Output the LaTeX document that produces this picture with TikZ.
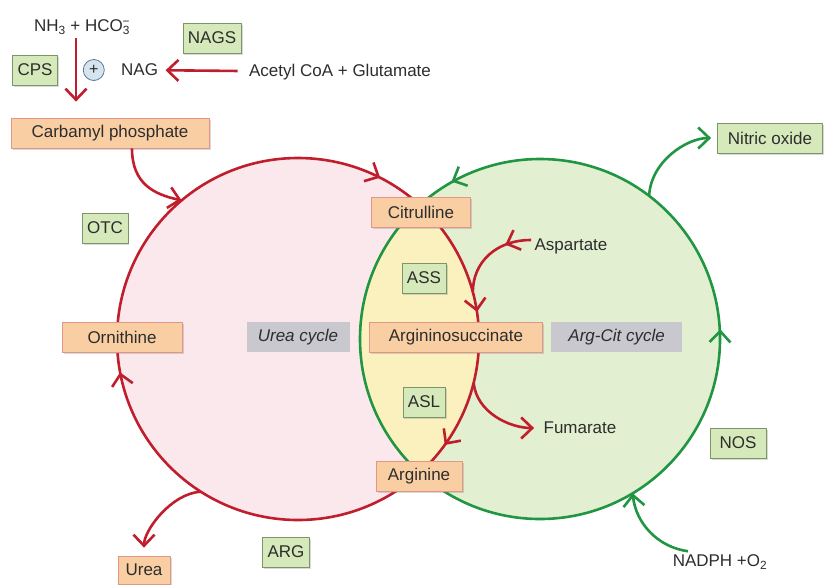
\documentclass[tikz,border=0pt]{standalone}
\usepackage{fontspec}
\setmainfont{Liberation Sans}
\usepackage{xcolor}
\usetikzlibrary{positioning,shapes,shadows,arrows.meta,decorations.markings}

\definecolor{ucred}{RGB}{192,30,44}
\definecolor{acgreen}{RGB}{32,150,66}
\definecolor{ucfill}{RGB}{251,232,236}
\definecolor{acfill}{RGB}{226,239,209}
\definecolor{lensfill}{RGB}{250,241,190}
\definecolor{enzfill}{RGB}{214,233,186}
\definecolor{enzdraw}{RGB}{125,150,105}
\definecolor{metfill}{RGB}{249,206,162}
\definecolor{metdraw}{RGB}{226,150,135}
\definecolor{tagfill}{RGB}{200,200,206}
\definecolor{plusfill}{RGB}{214,228,240}
\definecolor{plusdraw}{RGB}{90,120,150}
\definecolor{txt}{RGB}{45,45,45}

\begin{document}
\begin{tikzpicture}[>={Straight Barb[length=11pt,width=21pt,line width=2.6pt]},x=1pt,y=-1pt,
                    font=\fontsize{17}{20}\selectfont,text=txt]
  \tikzstyle{enzyme}=[draw=enzdraw,fill=enzfill,line width=0.8pt,minimum height=30pt,
                      inner xsep=5pt,drop shadow={shadow xshift=1.5pt,shadow yshift=-1.5pt,opacity=0.3}]
  \tikzstyle{metab}=[draw=metdraw,fill=metfill,line width=0.8pt,minimum height=30pt,
                     drop shadow={shadow xshift=1.5pt,shadow yshift=-1.5pt,opacity=0.3}]
  \tikzstyle{cyclelabel}=[fill=tagfill,minimum height=30pt,font=\fontsize{17}{20}\selectfont\itshape]
  \tikzstyle{redflow}=[->,draw=ucred,line width=2.6pt]
  \tikzstyle{greenflow}=[->,draw=acgreen,line width=2.6pt]
  \tikzstyle{redmarks}=[postaction={decorate},decoration={markings,
      mark=at position 0.0995 with {\arrow{>}},
      mark=at position 0.4705 with {\arrow{>}},
      mark=at position 0.825 with {\arrow{>}},
      mark=at position 0.976 with {\arrow{>}}}]
  \tikzstyle{greenmarks}=[postaction={decorate},decoration={markings,
      mark=at position 0.004 with {\arrow{<}},
      mark=at position 0.681 with {\arrow{<}}}]

  \useasboundingbox (0,0) rectangle (824,584);

  % the two cycles
  \coordinate (UC) at (298,339);
  \coordinate (AC) at (540,339);
  \fill[ucfill] (UC) circle[radius=181];
  \fill[acfill] (AC) circle[radius=180];
  \begin{scope}
    \clip (UC) circle[radius=181];
    \fill[lensfill] (AC) circle[radius=180];
  \end{scope}
  \draw[acgreen,line width=2.6pt,greenmarks] (AC) circle[radius=180];
  \draw[ucred,line width=2.6pt,redmarks] (UC) circle[radius=181];

  \coordinate (cpin)   at ([shift={(230:181)}]UC);
  \coordinate (aspin)  at ([shift={(345:181)}]UC);
  \coordinate (fumout) at ([shift={(14:181)}]UC);
  \coordinate (ureaout) at ([shift={(122.5:181)}]UC);
  \coordinate (noout)  at ([shift={(307.3:180)}]AC);
  \coordinate (nadin)  at ([shift={(59:180)}]AC);

  % nodes
  \node (nh) at (82,27) {NH\textsubscript{3} + HCO\textsubscript{3}\llap{\textsuperscript{\char"2212}}};
  \node[enzyme] (nags) at (212,38) {NAGS};
  \node[enzyme] (cps) at (35,70) {CPS};
  \node[circle,draw=plusdraw,fill=plusfill,line width=0.8pt,inner sep=0pt,minimum size=21pt,
        font=\fontsize{16}{16}\selectfont] (plus) [right=25pt of cps] {+};
  \node (nag) [right=13pt of plus] {NAG};
  \node (acg) at (340,72) {Acetyl CoA + Glutamate};
  \node[metab,minimum width=198pt] (cp) at (110,133) {Carbamyl phosphate};
  \node[enzyme] (otc) at (105,228) {OTC};
  \node[metab,minimum width=120pt] (orn) at (122,337) {Ornithine};
  \node[cyclelabel,minimum width=103pt] (uc) at (298,337) {Urea cycle};
  \node[metab,minimum width=99pt] (cit) at (421,212) {Citrulline};
  \node[enzyme] (ass) at (424,278) {ASS};
  \node[metab,minimum width=173pt] (asa) at (456,337) {Argininosuccinate};
  \node[cyclelabel,minimum width=131pt] (ac) [right=8pt of asa] {Arg-Cit cycle};
  \node[enzyme] (asl) at (424,402) {ASL};
  \node[metab,minimum width=86pt] (argn) at (419,476) {Arginine};
  \node[metab,minimum width=52pt,minimum height=28pt] (urea) at (144,570) {Urea};
  \node[enzyme] (arg) at (286,552) {ARG};
  \node (asp) at (571,246) {Aspartate};
  \node (fum) at (580,428) {Fumarate};
  \node[enzyme,minimum width=105pt] (no) at (770,138) {Nitric oxide};
  \node[enzyme,minimum width=56pt] (nos) at (738,443) {NOS};
  \node (nadph) at (720,562) {NADPH +O\textsubscript{2}};

  % side reactions
  \coordinate (cpsin) at ([xshift=-6pt]nh.south);
  \path (acg) edge[redflow,shorten <=8pt,shorten >=4pt] (nag)
        (cpsin) edge[redflow,shorten >=16pt] (cpsin |- cp.north);
  \draw[redflow] ([xshift=22pt]cp.south) .. controls +(0,35) and +(-28,-6) .. (cpin);
  \draw[ucred,line width=2.6pt,postaction={decorate},
        decoration={markings,mark=at position 0.3 with {\arrow{>}}}]
        ([yshift=6pt]asp.west) .. controls +(-35,0) and +(0,-30) .. (aspin);
  \draw[redflow,shorten >=6pt] (fumout) .. controls +(3,30) and +(-30,0) .. (fum.west);
  \draw[redflow,shorten >=8pt] (ureaout) .. controls +(-30,2) and +(0,-25) .. (urea.north);
  \draw[greenflow,shorten >=6pt] (noout) .. controls +(2,-35) and +(-30,0) .. (no.west);
  \draw[greenflow] ([xshift=-32pt]nadph.north) .. controls +(-30,-4) and +(3,30) .. (nadin);
\end{tikzpicture}
\end{document}
